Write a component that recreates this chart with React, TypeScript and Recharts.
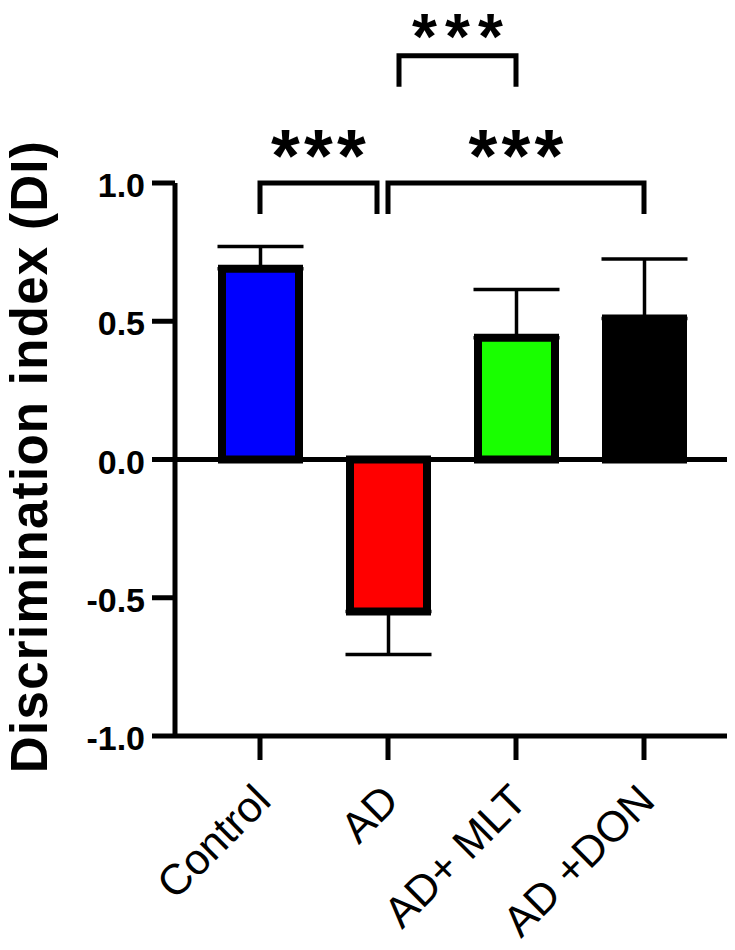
import React from "react";
import { BarChart, Bar, XAxis, YAxis, Cell, ErrorBar, ReferenceLine } from "recharts";

// groups, means and SEM
const groups = ["Control", "AD", "AD+ MLT", "AD +DON"];
const means = [0.69, -0.55, 0.44, 0.51];
const sems = [0.08, 0.155, 0.175, 0.215];
const yTicks = [-1, -0.5, 0, 0.5, 1];

// significance brackets
const compFrom = ["Control", "AD", "AD"];
const compTo = ["AD", "AD +DON", "AD+ MLT"];
const compLevel = [1.0, 1.0, 1.46];
const compLabel = ["***", "***", "***"];

const barColors = ["#0000ff", "#ff0000", "#19ff00", "#000000"];
// small pixel nudges so brackets sharing AD don't overlap
const bracketNudge: [number, number][] = [[0, -11], [0, 0], [11, 0]];
const starStyle = [
  { size: 74, dy: -2 },
  { size: 74, dy: -2 },
  { size: 64, dy: 3 },
];

const FONT = "'Liberation Sans', Arial, Helvetica, sans-serif";

const data = groups.map((g, i) => ({
  group: g,
  value: means[i],
  // only the outward half of the error bar is shown
  err: means[i] >= 0 ? [0, sems[i]] : [sems[i], 0],
}));

const comparisons = compFrom.map((f, i) => ({
  from: f,
  to: compTo[i],
  level: compLevel[i],
  label: compLabel[i],
}));

const makeBracket = (i: number, label: string) => (props: any) => {
  const { x1, y1, x2, y2 } = props;
  const nudge = bracketNudge[i];
  const st = starStyle[i];
  const xa = x1 + nudge[0];
  const xb = x2 + nudge[1];
  const leg = 31;
  const mid = (xa + xb) / 2;
  const chars = label.split("");
  return (
    <g>
      <path
        d={`M${xa},${y1 + leg}V${y1}H${xb}V${y2 + leg}`}
        fill="none"
        stroke="#000"
        strokeWidth={5}
        strokeLinejoin="miter"
      />
      {chars.map((c, k) => (
        <text
          key={k}
          x={mid + (k - (chars.length - 1) / 2) * 33}
          y={y1 + st.dy}
          textAnchor="middle"
          fontFamily={FONT}
          fontWeight="bold"
          fontSize={st.size}
          fill="#000"
        >
          {c}
        </text>
      ))}
    </g>
  );
};

const GroupTick = (props: any) => {
  const { x, y, payload } = props;
  const px = x + 13;
  const py = y + 43;
  return (
    <text
      x={px}
      y={py}
      transform={`rotate(-45, ${px}, ${py})`}
      textAnchor="end"
      fontFamily={FONT}
      fontSize={43}
      fill="#000"
    >
      {payload.value}
    </text>
  );
};

const YLabel = (props: any) => {
  const { viewBox } = props;
  const x = viewBox.x + 47;
  const y = viewBox.y + viewBox.height / 2 - 3;
  return (
    <text
      x={x}
      y={y}
      transform={`rotate(-90, ${x}, ${y})`}
      textAnchor="middle"
      fontFamily={FONT}
      fontWeight="bold"
      fontSize={51}
      letterSpacing={1.3}
      fill="#000"
    >
      Discrimination index (DI)
    </text>
  );
};

export default function App() {
  return (
    <div style={{ margin: -8, width: 735, height: 950, background: "#fff" }}>
      <BarChart
        width={735}
        height={950}
        data={data}
        margin={{ top: 183, right: 6, left: 0, bottom: 0 }}
        barCategoryGap={0}
      >
        <XAxis
          dataKey="group"
          type="category"
          height={214}
          padding={{ left: 21, right: 21 }}
          axisLine={{ stroke: "#000", strokeWidth: 5 }}
          tickLine={{ stroke: "#000", strokeWidth: 5 }}
          tickSize={24}
          tickMargin={0}
          interval={0}
          tick={<GroupTick />}
        />
        <YAxis
          type="number"
          domain={[-1, 1]}
          ticks={yTicks}
          width={175}
          allowDataOverflow
          axisLine={{ stroke: "#000", strokeWidth: 5 }}
          tickLine={{ stroke: "#000", strokeWidth: 5 }}
          tickSize={23}
          tickMargin={7}
          tickFormatter={(v: number) => v.toFixed(1)}
          tick={{ fill: "#000", fontSize: 34, fontWeight: "bold", fontFamily: FONT, dy: 2 }}
          label={{ content: <YLabel /> }}
        />
        <ReferenceLine y={0} stroke="#000" strokeWidth={5} />
        <Bar dataKey="value" barSize={77} stroke="#000" strokeWidth={8} isAnimationActive={false}>
          {data.map((d, i) => (
            <Cell key={d.group} fill={barColors[i % barColors.length]} />
          ))}
          <ErrorBar dataKey="err" direction="y" width={43} stroke="#000" strokeWidth={3.5} />
        </Bar>
        {comparisons.map((c, i) => (
          <ReferenceLine
            key={i}
            segment={[
              { x: c.from, y: c.level },
              { x: c.to, y: c.level },
            ]}
            ifOverflow="visible"
            shape={makeBracket(i, c.label)}
          />
        ))}
      </BarChart>
    </div>
  );
}
